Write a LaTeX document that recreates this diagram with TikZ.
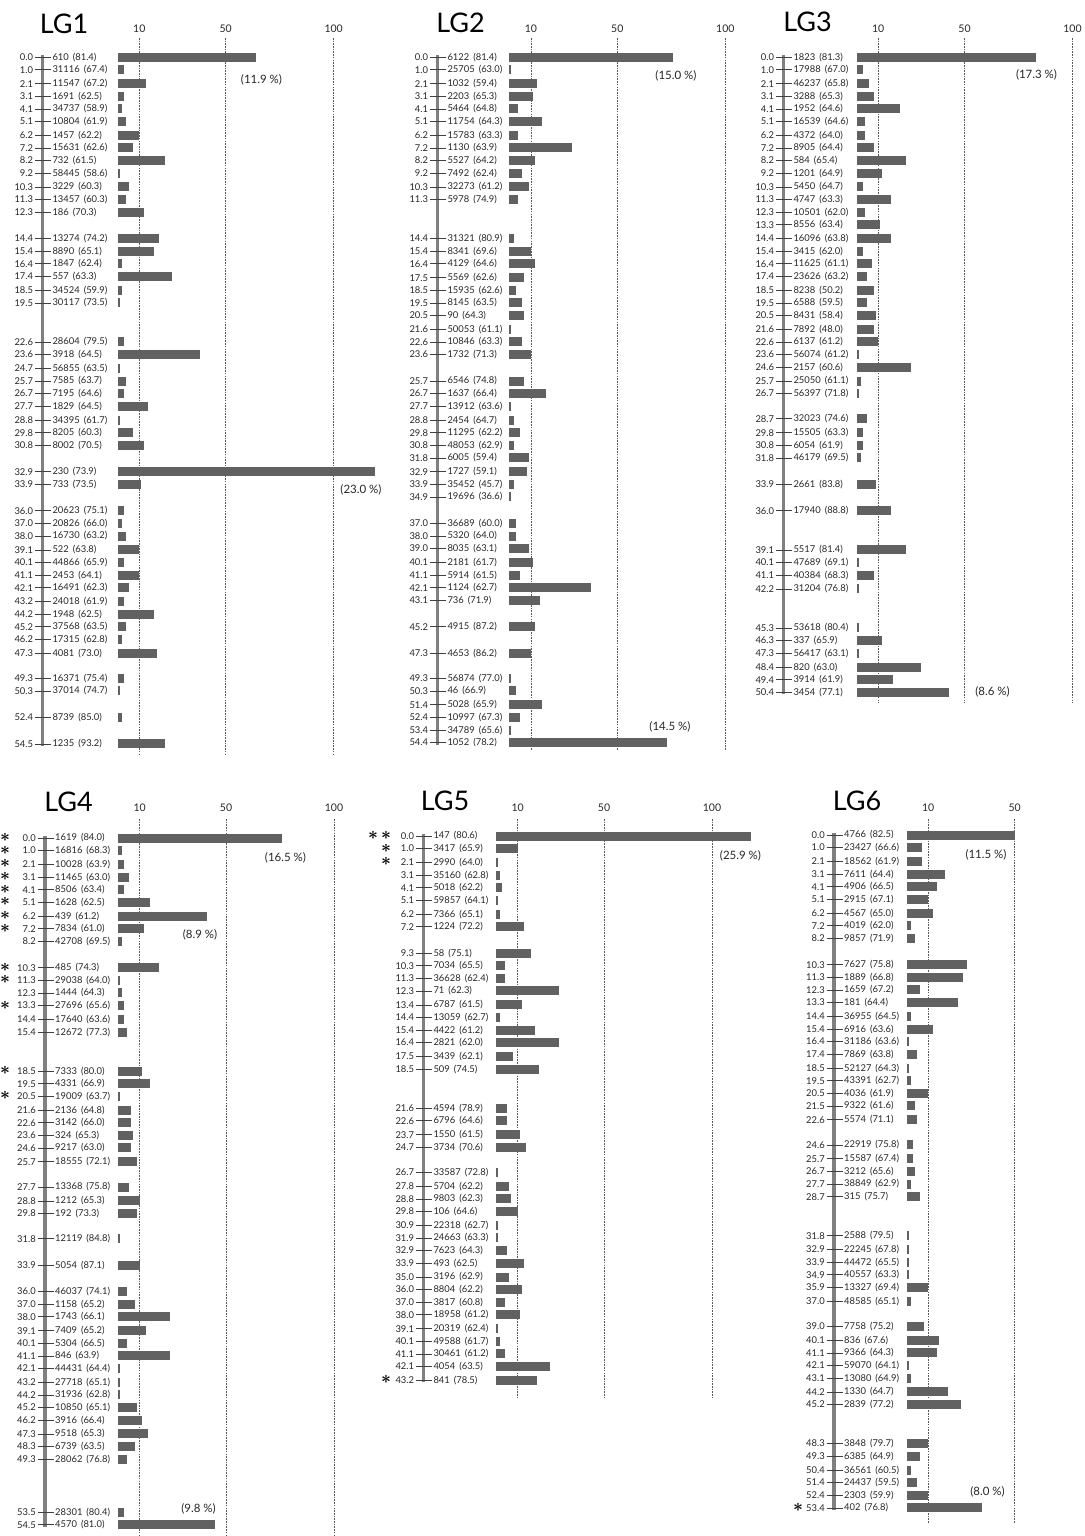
\documentclass[tikz,border=0pt]{standalone}
\usepackage{fontspec}
\setmainfont{Lato}
\usepackage{tikz}
\usetikzlibrary{positioning}

% #1 name, #2 axis x, #3 bar start x, #4 y of 0.0, #5 rows cM/marker/(%)/bar
\newcommand{\lgrows}[5]{%
\foreach \p/\m/\q/\b [count=\i] in {#5}{
\node [cmlbl, left] (#1p\i) at (#2-7.5,{#4+12.6*\p}) {\p};
\node [marklbl, right] (#1m\i) at (#2+8.5,{#4+12.6*\p}) {\m\hspace{4pt}(\q)};
\draw [tickln] (#1p\i.east) -- (#1m\i.west);
\fill [cntbar] (#3,{#4+12.6*\p-4.5}) rectangle ++({2.16*\b},9);
}}

\begin{document}
\begin{tikzpicture}
[x=1pt, y=-1pt,
axisln/.style = {draw=black!50, line width=3.4pt},
tickln/.style = {draw=black!75, line width=0.7pt},
cntbar/.style = {fill=black!62},
gridln/.style = {draw=black!65, line width=0.6pt, dash pattern=on 1.6pt off 1.1pt},
cmlbl/.style = {font=\fontsize{9.4}{9.4}\selectfont, text=black!85, inner sep=1.5pt},
marklbl/.style = {font=\fontsize{9.4}{9.4}\selectfont, text=black!85, inner sep=1.5pt},
scllbl/.style = {font=\fontsize{10.5}{10.5}\selectfont, text=black!85},
pctlbl/.style = {font=\fontsize{11.5}{11.5}\selectfont, text=black!85},
ttl/.style = {font=\fontsize{27}{27}\selectfont},
astk/.style = {font=\fontsize{17}{17}\selectfont\boldmath, inner sep=0pt,
  text height=7pt, text depth=0pt}]
\useasboundingbox (0,0) rectangle (1084,1536);

% LG1
\node [ttl] (lg1) at (64,24) {LG1};
\foreach \v in {10,50,100}{
\draw [gridln] ({117.7+2.16*\v},38) -- ({117.7+2.16*\v},755);
\node [scllbl] (lg1g\v) at ({117.7+2.16*\v},29) {\v};
}
\draw [axisln] (42.3,55) -- (42.3,{57.2+12.6*54.5+2});
\lgrows{lg1}{42.3}{117.7}{57.2}{0.0/610/81.4/64, 1.0/31116/67.4/3, 2.1/11547/67.2/13,
3.1/1691/62.5/3, 4.1/34737/58.9/2, 5.1/10804/61.9/4, 6.2/1457/62.2/10, 7.2/15631/62.6/7,
8.2/732/61.5/22, 9.2/58445/58.6/1, 10.3/3229/60.3/5, 11.3/13457/60.3/4, 12.3/186/70.3/12,
14.4/13274/74.2/19, 15.4/8890/65.1/17, 16.4/1847/62.4/2, 17.4/557/63.3/25, 18.5/34524/59.9/2,
19.5/30117/73.5/1, 22.6/28604/79.5/3, 23.6/3918/64.5/38, 24.7/56855/63.5/1, 25.7/7585/63.7/4,
26.7/7195/64.6/3, 27.7/1829/64.5/14, 28.8/34395/61.7/1, 29.8/8205/60.3/7, 30.8/8002/70.5/12,
32.9/230/73.9/119, 33.9/733/73.5/11, 36.0/20623/75.1/3, 37.0/20826/66.0/2, 38.0/16730/63.2/4,
39.1/522/63.8/10, 40.1/44866/65.9/3, 41.1/2453/64.1/10, 42.1/16491/62.3/5, 43.2/24018/61.9/3,
44.2/1948/62.5/17, 45.2/37568/63.5/4, 46.2/17315/62.8/2, 47.3/4081/73.0/18, 49.3/16371/75.4/3,
50.3/37014/74.7/1, 52.4/8739/85.0/2, 54.5/1235/93.2/22}
\node [pctlbl] (lg1a) at (261.5,80) {(11.9 \%)};
\node [pctlbl] (lg1b) at (361,490) {(23.0 \%)};

% LG2
\node [ttl] (lg2) at (460.5,23) {LG2};
\foreach \v in {10,50,100}{
\draw [gridln] ({509.3+2.16*\v},38) -- ({509.3+2.16*\v},750);
\node [scllbl] (lg2g\v) at ({509.3+2.16*\v},29) {\v};
}
\draw [axisln] (437.3,55) -- (437.3,{57.2+12.6*54.4+2});
\lgrows{lg2}{437.3}{509.3}{57.2}{0.0/6122/81.4/76, 1.0/25705/63.0/1, 2.1/1032/59.4/13,
3.1/2203/65.3/11, 4.1/5464/64.8/4, 5.1/11754/64.3/15, 6.2/15783/63.3/4, 7.2/1130/63.9/29,
8.2/5527/64.2/12, 9.2/7492/62.4/6, 10.3/32273/61.2/9, 11.3/5978/74.9/4, 14.4/31321/80.9/2,
15.4/8341/69.6/10, 16.4/4129/64.6/12, 17.5/5569/62.6/7, 18.5/15935/62.6/3, 19.5/8145/63.5/6,
20.5/90/64.3/7, 21.6/50053/61.1/1, 22.6/10846/63.3/6, 23.6/1732/71.3/10, 25.7/6546/74.8/7,
26.7/1637/66.4/17, 27.7/13912/63.6/1, 28.8/2454/64.7/2, 29.8/11295/62.2/5, 30.8/48053/62.9/2,
31.8/6005/59.4/9, 32.9/1727/59.1/8, 33.9/35452/45.7/2, 34.9/19696/36.6/1, 37.0/36689/60.0/3,
38.0/5320/64.0/3, 39.0/8035/63.1/9, 40.1/2181/61.7/11, 41.1/5914/61.5/5, 42.1/1124/62.7/38,
43.1/736/71.9/14, 45.2/4915/87.2/12, 47.3/4653/86.2/10, 49.3/56874/77.0/1, 50.3/46/66.9/3,
51.4/5028/65.9/15, 52.4/10997/67.3/5, 53.4/34789/65.6/1, 54.4/1052/78.2/73}
\node [pctlbl] (lg2a) at (676,76) {(15.0 \%)};
\node [pctlbl] (lg2b) at (670,727) {(14.5 \%)};

% LG3
\node [ttl] (lg3) at (807.5,22) {LG3};
\foreach \v in {10,50,100}{
\draw [gridln] ({856.5+2.16*\v},38) -- ({856.5+2.16*\v},703);
\node [scllbl] (lg3g\v) at ({856.5+2.16*\v},29) {\v};
}
\draw [axisln] (783.3,55) -- (783.3,{57.2+12.6*50.4+2});
\lgrows{lg3}{783.3}{856.5}{57.2}{0.0/1823/81.3/83, 1.0/17988/67.0/3, 2.1/46237/65.8/6,
3.1/3288/65.3/8, 4.1/1952/64.6/20, 5.1/16539/64.6/4, 6.2/4372/64.0/4, 7.2/8905/64.4/8,
8.2/584/65.4/23, 9.2/1201/64.9/12, 10.3/5450/64.7/3, 11.3/4747/63.3/16, 12.3/10501/62.0/4,
13.3/8556/63.4/11, 14.4/16096/63.8/16, 15.4/3415/62.0/3, 16.4/11625/61.1/7, 17.4/23626/63.2/5,
18.5/8238/50.2/8, 19.5/6588/59.5/5, 20.5/8431/58.4/9, 21.6/7892/48.0/8, 22.6/6137/61.2/10,
23.6/56074/61.2/1, 24.6/2157/60.6/25, 25.7/25050/61.1/2, 26.7/56397/71.8/1, 28.7/32023/74.6/5,
29.8/15505/63.3/3, 30.8/6054/61.9/3, 31.8/46179/69.5/2, 33.9/2661/83.8/9, 36.0/17940/88.8/16,
39.1/5517/81.4/23, 40.1/47689/69.1/1, 41.1/40384/68.3/8, 42.2/31204/76.8/1, 45.3/53618/80.4/1,
46.3/337/65.9/12, 47.3/56417/63.1/1, 48.4/820/63.0/30, 49.4/3914/61.9/17, 50.4/3454/77.1/43}
\node [pctlbl] (lg3a) at (1036.5,75) {(17.3 \%)};
\node [pctlbl] (lg3b) at (992.5,692) {(8.6 \%)};

% LG4
\node [ttl] (lg4) at (68.5,802) {LG4};
\foreach \v in {10,50,100}{
\draw [gridln] ({118+2.16*\v},819) -- ({118+2.16*\v},1535);
\node [scllbl] (lg4g\v) at ({118+2.16*\v},808) {\v};
}
\draw [axisln] (45,836) -- (45,{838+12.6*54.5+2});
\lgrows{lg4}{45}{118}{838}{0.0/1619/84.0/76, 1.0/16816/68.3/2, 2.1/10028/63.9/3,
3.1/11465/63.0/5, 4.1/8506/63.4/3, 5.1/1628/62.5/15, 6.2/439/61.2/41, 7.2/7834/61.0/12,
8.2/42708/69.5/2, 10.3/485/74.3/19, 11.3/29038/64.0/1, 12.3/1444/64.3/2, 13.3/27696/65.6/3,
14.4/17640/63.6/3, 15.4/12672/77.3/4, 18.5/7333/80.0/11, 19.5/4331/66.9/15, 20.5/19009/63.7/1,
21.6/2136/64.8/6, 22.6/3142/66.0/6, 23.6/324/65.3/7, 24.6/9217/63.0/6, 25.7/18555/72.1/9,
27.7/13368/75.8/5, 28.8/1212/65.3/10, 29.8/192/73.3/9, 31.8/12119/84.8/1, 33.9/5054/87.1/10,
36.0/46037/74.1/4, 37.0/1158/65.2/8, 38.0/1743/66.1/24, 39.1/7409/65.2/13, 40.1/5304/66.5/4,
41.1/846/63.9/24, 42.1/44431/64.4/1, 43.2/27718/65.1/1, 44.2/31936/62.8/1, 45.2/10850/65.1/9,
46.2/3916/66.4/11, 47.3/9518/65.3/14, 48.3/6739/63.5/8, 49.3/28062/76.8/4, 53.5/28301/80.4/3,
54.5/4570/81.0/45}
\foreach \p [count=\i] in {0.0,1.0,2.1,3.1,4.1,5.1,6.2,7.2,10.3,11.3,13.3,18.5,20.5}
\node [astk] (lg4s\i) at (5,{838+12.6*\p}) {$\ast$};
\node [pctlbl] (lg4a) at (285.5,858) {(16.5 \%)};
\node [pctlbl] (lg4b) at (200,935) {(8.9 \%)};
\node [pctlbl] (lg4c) at (198.5,1509) {(9.8 \%)};

% LG5
\node [ttl] (lg5) at (445,801) {LG5};
\foreach \v in {10,50,100}{
\draw [gridln] ({496+2.16*\v},819) -- ({496+2.16*\v},1397);
\node [scllbl] (lg5g\v) at ({496+2.16*\v},808) {\v};
}
\draw [axisln] (423.3,834) -- (423.3,{836+12.6*43.2+2});
\lgrows{lg5}{423.3}{496}{836}{0.0/147/80.6/118, 1.0/3417/65.9/10, 2.1/2990/64.0/1,
3.1/35160/62.8/2, 4.1/5018/62.2/3, 5.1/59857/64.1/1, 6.2/7366/65.1/2, 7.2/1224/72.2/13,
9.3/58/75.1/16, 10.3/7034/65.5/4, 11.3/36628/62.4/4, 12.3/71/62.3/29, 13.4/6787/61.5/12,
14.4/13059/62.7/2, 15.4/4422/61.2/18, 16.4/2821/62.0/29, 17.5/3439/62.1/8, 18.5/509/74.5/20,
21.6/4594/78.9/5, 22.6/6796/64.6/5, 23.7/1550/61.5/11, 24.7/3734/70.6/14, 26.7/33587/72.8/1,
27.8/5704/62.2/6, 28.8/9803/62.3/7, 29.8/106/64.6/10, 30.9/22318/62.7/1, 31.9/24663/63.3/1,
32.9/7623/64.3/5, 33.9/493/62.5/13, 35.0/3196/62.9/6, 36.0/8804/62.2/12, 37.0/3817/60.8/4,
38.0/18958/61.2/11, 39.1/20319/62.4/1, 40.1/49588/61.7/2, 41.1/30461/61.2/4, 42.1/4054/63.5/25,
43.2/841/78.5/19}
\node [astk] (lg5s0) at (373,836) {$\ast$};
\foreach \p [count=\i] in {0.0,1.0,2.1,43.2}
\node [astk] (lg5s\i) at (386,{836+12.6*\p}) {$\ast$};
\node [pctlbl] (lg5a) at (740.5,856) {(25.9 \%)};

% LG6
\node [ttl] (lg6) at (857,801) {LG6};
\foreach \v in {10,50}{
\draw [gridln] ({906.6+2.16*\v},819) -- ({906.6+2.16*\v},1523);
\node [scllbl] (lg6g\v) at ({906.6+2.16*\v},808) {\v};
}
\draw [axisln] (834,833) -- (834,{835+12.6*53.4+2});
\lgrows{lg6}{834}{906.6}{835}{0.0/4766/82.5/50, 1.0/23427/66.6/7, 2.1/18562/61.9/7,
3.1/7611/64.4/18, 4.1/4906/66.5/14, 5.1/2915/67.1/10, 6.2/4567/65.0/12, 7.2/4019/62.0/2,
8.2/9857/71.9/4, 10.3/7627/75.8/28, 11.3/1889/66.8/26, 12.3/1659/67.2/6, 13.3/181/64.4/24,
14.4/36955/64.5/2, 15.4/6916/63.6/12, 16.4/31186/63.6/1, 17.4/7869/63.8/5, 18.5/52127/64.3/1,
19.5/43391/62.7/2, 20.5/4036/61.9/10, 21.5/9322/61.6/4, 22.6/5574/71.1/5, 24.6/22919/75.8/3,
25.7/15587/67.4/3, 26.7/3212/65.6/4, 27.7/38849/62.9/2, 28.7/315/75.7/6, 31.8/2588/79.5/1,
32.9/22245/67.8/1, 33.9/44472/65.5/1, 34.9/40557/63.3/1, 35.9/13327/69.4/10, 37.0/48585/65.1/2,
39.0/7758/75.2/8, 40.1/836/67.6/15, 41.1/9366/64.3/14, 42.1/59070/64.1/1, 43.1/13080/64.9/2,
44.2/1330/64.7/19, 45.2/2839/77.2/25, 48.3/3848/79.7/10, 49.3/6385/64.9/6, 50.4/36561/60.5/2,
51.4/24437/59.5/5, 52.4/2303/59.9/10, 53.4/402/76.8/35}
\node [astk] (lg6s1) at (798,{835+12.6*53.4}) {$\ast$};
\node [pctlbl] (lg6a) at (986,855) {(11.5 \%)};
\node [pctlbl] (lg6b) at (987.5,1492) {(8.0 \%)};

\end{tikzpicture}
\end{document}
